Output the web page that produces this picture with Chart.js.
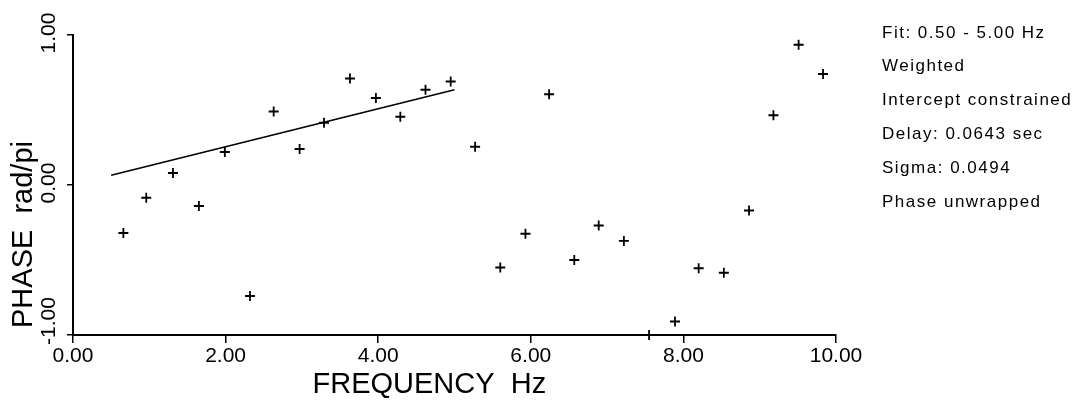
<!DOCTYPE html>
<html>
<head>
<meta charset="utf-8">
<script src="https://cdn.jsdelivr.net/npm/chart.js@4.4.1/dist/chart.umd.min.js"></script>
<style>
  html, body { margin: 0; padding: 0; background: #fff; }
  #wrap { width: 1074px; height: 403px; position: relative; }
</style>
</head>
<body>
<div id="wrap"><canvas id="phaseChart"></canvas></div>
<script>
// measured phase points (frequency in Hz, phase in rad/pi)
const freq = [0.66, 0.96, 1.31, 1.65, 1.99, 2.32, 2.63, 2.97, 3.29, 3.63, 3.97, 4.29, 4.62, 4.95, 5.27,
              5.60, 5.93, 6.24, 6.57, 6.89, 7.22, 7.55, 7.89, 8.20, 8.53, 8.86, 9.18, 9.51, 9.83];
const phase = [-0.32, -0.085, 0.08, -0.14, 0.22, -0.74, 0.49, 0.24, 0.415, 0.71, 0.58, 0.455, 0.635, 0.69, 0.255,
               -0.55, -0.325, 0.605, -0.50, -0.27, -0.373, -1.0, -0.91, -0.555, -0.585, -0.17, 0.465, 0.935, 0.74];

// fitted line 0.5 - 5.0 Hz
const fitFreq = [0.5, 5.0];
const fitPhase = [0.065, 0.635];

// axis ticks
const xTicks = [0, 2, 4, 6, 8, 10];
const yTicks = [-1, 0, 1];

const notes = ["Fit: 0.50 - 5.00 Hz", "Weighted", "Intercept constrained",
               "Delay: 0.0643 sec", "Sigma: 0.0494", "Phase unwrapped"];

const FONT = '"Liberation Sans", Arial, Helvetica, sans-serif';

// rotated y tick labels, axis titles and the fit notes
const annotate = {
    id: 'annotate',
    afterDraw(chart) {
        const { ctx, chartArea, scales } = chart;
        ctx.save();
        ctx.fillStyle = '#000';

        ctx.font = '21px ' + FONT;
        ctx.textAlign = 'center';
        ctx.textBaseline = 'middle';
        yTicks.forEach(v => {
            const label = v.toFixed(2);
            const half = ctx.measureText(label).width / 2;
            let c = scales.y.getPixelForValue(v) - 2;
            if (c + half > chartArea.bottom + 10) c = chartArea.bottom + 10 - half;
            if (c - half < 10) c = 10 + half;
            ctx.save();
            ctx.translate(chartArea.left - 24, c);
            ctx.rotate(-Math.PI / 2);
            ctx.fillText(label, 0, 0);
            ctx.restore();
        });

        // y title
        ctx.font = '29px ' + FONT;
        ctx.save();
        ctx.translate(24, chartArea.bottom - 7);
        ctx.rotate(-Math.PI / 2);
        ctx.textAlign = 'left';
        ctx.fillText('PHASE  rad/pi', 0, 0);
        ctx.restore();

        // x title
        ctx.textAlign = 'center';
        ctx.textBaseline = 'alphabetic';
        ctx.fillText('FREQUENCY  Hz', chartArea.left + (chartArea.right - chartArea.left) * 0.467, chartArea.bottom + 58);

        ctx.font = '17px ' + FONT;
        ctx.letterSpacing = '1.5px';
        ctx.textAlign = 'left';
        ctx.textBaseline = 'middle';
        notes.forEach((t, i) => {
            ctx.fillText(t, chartArea.right + 46, chartArea.top - 2 + i * 33.8);
        });
        ctx.restore();
    }
};

const ctx = document.getElementById('phaseChart').getContext('2d');
new Chart(ctx, {
    type: 'scatter',
    data: {
        datasets: [{
            label: 'phase',
            data: freq.map((f, i) => ({ x: f, y: phase[i] })),
            pointStyle: 'cross',
            pointRadius: 5,
            pointBorderWidth: 1.8,
            borderColor: '#000',
            backgroundColor: '#000',
            clip: false
        }, {
            label: 'fit',
            type: 'line',
            data: fitFreq.map((f, i) => ({ x: f, y: fitPhase[i] })),
            borderColor: '#000',
            borderWidth: 1.6,
            pointRadius: 0,
            fill: false
        }]
    },
    options: {
        responsive: true,
        maintainAspectRatio: false,
        animation: false,
        layout: { padding: { left: 0, right: 238, top: 35, bottom: 0 } },
        plugins: {
            legend: { display: false },
            tooltip: { enabled: false }
        },
        scales: {
            x: {
                type: 'linear',
                min: 0,
                max: 10,
                afterBuildTicks: s => { s.ticks = xTicks.map(v => ({ value: v })); },
                afterFit: s => { s.height = 68; },
                border: { color: '#000', width: 2 },
                grid: { drawOnChartArea: false, color: '#000', tickLength: 8, lineWidth: 1.5 },
                ticks: {
                    color: '#000',
                    padding: 1,
                    font: { family: FONT, size: 21 },
                    callback: v => v.toFixed(2)
                }
            },
            y: {
                type: 'linear',
                min: -1,
                max: 1,
                afterBuildTicks: s => { s.ticks = yTicks.map(v => ({ value: v })); },
                afterFit: s => { s.width = 73; },
                border: { color: '#000', width: 2 },
                grid: { drawOnChartArea: false, color: '#000', tickLength: 6, lineWidth: 1.5 },
                ticks: { display: false }
            }
        }
    },
    plugins: [annotate]
});
</script>
</body>
</html>
